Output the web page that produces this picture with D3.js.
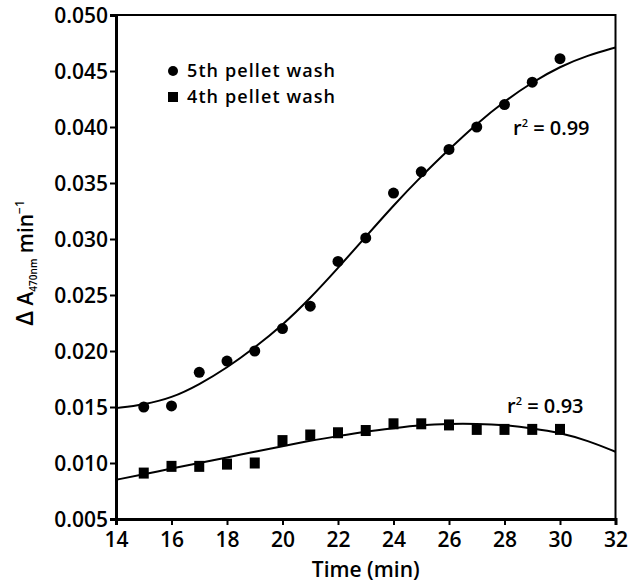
<!DOCTYPE html>
<html>
<head>
<meta charset="utf-8">
<script src="https://cdn.jsdelivr.net/npm/d3@7/dist/d3.min.js"></script>
<style>
  html, body { margin: 0; padding: 0; background: #fff; }
  svg { display: block; }
  text { font-family: "Open Sans", "Noto Sans", sans-serif; font-weight: 600; fill: #000; }
</style>
</head>
<body>
<svg id="chart" width="630" height="586"></svg>
<script>
// ---- data ----
const times = [15,16,17,18,19,20,21,22,23,24,25,26,27,28,29,30];
const wash5 = [0.0150,0.0151,0.0181,0.0191,0.0200,0.0220,0.0240,0.0280,0.0301,0.0341,0.0360,0.0380,0.0400,0.0420,0.0440,0.0461];
const wash4 = [0.0091,0.0097,0.0097,0.0099,0.0100,0.0120,0.0125,0.0127,0.0129,0.0135,0.0135,0.0134,0.0130,0.0130,0.0130,0.0130];
const fitTimes = [14,15,16,17,18,19,20,21,22,23,24,25,26,27,28,29,30,31,32];
const fit5 = [0.0149,0.0152,0.0158,0.0170,0.0185,0.0203,0.0223,0.0247,0.0274,0.0302,0.0330,0.0356,0.0380,0.0403,0.0423,0.0440,0.0454,0.0464,0.0471];
const fit4 = [0.0085,0.0090,0.0095,0.0100,0.0105,0.0110,0.0115,0.0120,0.0124,0.0128,0.0131,0.0134,0.0135,0.0135,0.0134,0.0131,0.0127,0.0120,0.0110];
const xTicks = [14,16,18,20,22,24,26,28,30,32];
const yTicks = [0.005,0.010,0.015,0.020,0.025,0.030,0.035,0.040,0.045,0.050];
const legendLabels = ["5th pellet wash", "4th pellet wash"];
const r2Labels = ["0.99", "0.93"];

// ---- layout ----
const svg = d3.select("#chart");
const L = 116, R = 615.5, T = 15, B = 519;
const x = d3.scaleLinear().domain([14, 32]).range([L, R]);
const y = d3.scaleLinear().domain([0.005, 0.050]).range([B, T]);

// frame (top/right)
svg.append("rect").attr("x", L).attr("y", T).attr("width", R - L).attr("height", B - T)
  .attr("fill", "none").attr("stroke", "#000").attr("stroke-width", 2);

// axes
const yAxis = svg.append("g").attr("transform", `translate(${L},0)`)
  .call(d3.axisLeft(y).tickValues(yTicks).tickFormat(d3.format(".3f")).tickSize(6).tickPadding(2));
const xAxis = svg.append("g").attr("transform", `translate(0,${B})`)
  .call(d3.axisBottom(x).tickValues(xTicks).tickFormat(d3.format("d")).tickSize(6).tickPadding(6));
[yAxis, xAxis].forEach(g => {
  g.select(".domain").attr("stroke", "#000").attr("stroke-width", 3);
  g.selectAll(".tick line").attr("stroke", "#000").attr("stroke-width", 2);
  g.selectAll(".tick text").style("font-family", '"Open Sans", sans-serif')
    .style("font-weight", 600).style("font-size", "21px").attr("fill", "#000");
});
xAxis.selectAll(".tick text").attr("dy", "0.78em");
yAxis.selectAll(".tick text").attr("dy", "0.36em");

// fit curves
const line = d3.line().x(d => x(d[0])).y(d => y(d[1])).curve(d3.curveBasis);
[fit5, fit4].forEach(fit => {
  svg.append("path").datum(fitTimes.map((t, i) => [t, fit[i]]))
    .attr("d", line).attr("fill", "none").attr("stroke", "#000").attr("stroke-width", 2);
});

// points
svg.append("g").selectAll("circle").data(times.map((t, i) => [t, wash5[i]])).join("circle")
  .attr("cx", d => x(d[0])).attr("cy", d => y(d[1])).attr("r", 5.5).attr("fill", "#000");
const sq = 10;
svg.append("g").selectAll("rect").data(times.map((t, i) => [t, wash4[i]])).join("rect")
  .attr("x", d => x(d[0]) - sq / 2).attr("y", d => y(d[1]) - sq / 2 - 0.5)
  .attr("width", sq).attr("height", sq + 1).attr("fill", "#000");

// legend
svg.append("circle").attr("cx", 173).attr("cy", 71).attr("r", 5).attr("fill", "#000");
svg.append("rect").attr("x", 168).attr("y", 92).attr("width", 10).attr("height", 10).attr("fill", "#000");
legendLabels.forEach((lab, i) => {
  svg.append("text").attr("x", 187).attr("y", 77 + i * 26)
    .style("font-size", "18px").style("letter-spacing", "1.1px").text(lab);
});

// r^2 labels
function r2(xp, yp, val) {
  const t = svg.append("text").attr("x", xp).attr("y", yp).style("font-size", "20px");
  t.append("tspan").text("r");
  t.append("tspan").attr("dy", -8).style("font-size", "11px").text("2");
  t.append("tspan").attr("dy", 8).text(" = " + val);
}
r2(513, 135, r2Labels[0]);
r2(507, 413, r2Labels[1]);

// axis titles
svg.append("text").attr("x", (L + R) / 2).attr("y", 577).attr("text-anchor", "middle")
  .style("font-size", "21px").text("Time (min)");

const yt = svg.append("text").attr("transform", `translate(33,${(T + B) / 2 - 4}) rotate(-90)`)
  .attr("text-anchor", "middle").style("font-size", "21px");
yt.append("tspan").style("font-size", "24px").text("\u0394");
yt.append("tspan").text(" A");
yt.append("tspan").attr("dy", 4).style("font-size", "10px").text("470nm");
yt.append("tspan").attr("dy", -4).text(" min");
yt.append("tspan").attr("dy", -9).style("font-size", "12px").text("\u22121");
</script>
</body>
</html>
